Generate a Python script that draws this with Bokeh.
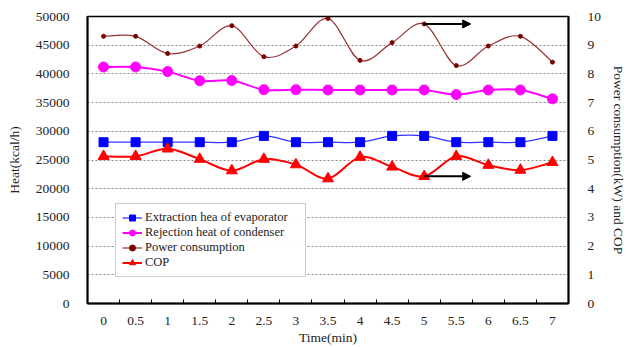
from bokeh.plotting import figure
from bokeh.models import (Range1d, LinearAxis, FixedTicker, Legend, LegendItem,
                          Arrow, NormalHead, ColumnDataSource)
from bokeh.embed import file_html
from bokeh.resources import INLINE

time_labels = ["0", "0.5", "1", "1.5", "2", "2.5", "3", "3.5", "4", "4.5",
               "5", "5.5", "6", "6.5", "7"]
extraction = [28100, 28100, 28100, 28100, 28100, 29200, 28100, 28100, 28100,
              29200, 29200, 28100, 28100, 28100, 29200]
rejection = [41200, 41200, 40400, 38800, 38850, 37250, 37250, 37200, 37200,
             37200, 37200, 36400, 37200, 37200, 35650]
power = [9.31, 9.31, 8.71, 8.97, 9.68, 8.60, 8.97, 9.93, 8.47, 9.09, 9.74,
         8.29, 8.97, 9.31, 8.41]
cop = [5.13, 5.13, 5.39, 5.03, 4.63, 5.03, 4.84, 4.35, 5.10, 4.76, 4.43,
       5.13, 4.82, 4.65, 4.92]

xs = list(range(len(time_labels)))
FONT = "Liberation Serif"


def smooth(xv, yv):
    n = len(xv)
    d = dict(x0=[], y0=[], x1=[], y1=[], cx0=[], cy0=[], cx1=[], cy1=[])
    for i in range(n - 1):
        pm = max(i - 1, 0)
        pp = min(i + 2, n - 1)
        d["x0"].append(xv[i]); d["y0"].append(yv[i])
        d["x1"].append(xv[i + 1]); d["y1"].append(yv[i + 1])
        d["cx0"].append(xv[i] + (xv[i + 1] - xv[pm]) / 6)
        d["cy0"].append(yv[i] + (yv[i + 1] - yv[pm]) / 6)
        d["cx1"].append(xv[i + 1] - (xv[pp] - xv[i]) / 6)
        d["cy1"].append(yv[i + 1] - (yv[pp] - yv[i]) / 6)
    return ColumnDataSource(d)


p = figure(width=629, height=347, output_backend="svg", toolbar_location=None,
           x_range=Range1d(-0.5, len(xs) - 0.5), y_range=Range1d(0, 50000),
           min_border_left=87, min_border_right=59, min_border_top=16,
           min_border_bottom=39)
p.extra_y_ranges = {"right": Range1d(0, 10)}

p.outline_line_color = "black"
p.outline_line_width = 1.5
p.xgrid.visible = False
p.ygrid.grid_line_color = "#888888"
p.ygrid.grid_line_dash = "2 2"
p.ygrid.grid_line_width = 1
p.yaxis.ticker = FixedTicker(ticks=list(range(0, 50001, 5000)))

# x axis
xa = p.xaxis[0]
xa.ticker = FixedTicker(ticks=xs, minor_ticks=[i - 0.5 for i in range(len(xs) + 1)])
xa.major_label_overrides = {i: t for i, t in enumerate(time_labels)}
xa.major_tick_line_color = None
xa.minor_tick_in = 4
xa.minor_tick_out = 0
xa.minor_tick_line_color = "black"
xa.axis_label = "Time(min)"

ya = p.yaxis[0]
ya.axis_label = "Heat(kcal/h)"
ya.major_tick_line_color = None
ya.minor_tick_line_color = None

ra = LinearAxis(y_range_name="right", axis_label="Power consumption(kW) and COP",
                ticker=FixedTicker(ticks=list(range(0, 11))))
ra.major_tick_line_color = None
ra.minor_tick_line_color = None
p.add_layout(ra, "right")

for ax in [xa, ya, ra]:
    ax.axis_line_color = "black"
    ax.axis_line_width = 2
    ax.major_label_text_font = FONT
    ax.major_label_text_font_size = "13.5px"
    ax.major_label_text_color = "#222222"
    ax.axis_label_text_font = FONT
    ax.axis_label_text_font_size = "13.5px"
    ax.axis_label_text_font_style = "normal"
    ax.axis_label_text_color = "#222222"

xa.major_label_standoff = 7
xa.axis_label_standoff = 2
ya.major_label_standoff = 12
ya.axis_label_standoff = 11
ra.major_label_standoff = 13
ra.axis_label_standoff = 7

# series
src_e = smooth(xs, extraction)
src_r = smooth(xs, rejection)
src_p = smooth(xs, power)
src_c = smooth(xs, cop)

le = p.bezier("x0", "y0", "x1", "y1", "cx0", "cy0", "cx1", "cy1", source=src_e,
              line_color="#3333ff", line_width=1.3)
me = p.scatter(xs, extraction, marker="square", size=9, fill_color="#0000ff",
               line_color="#0000ff")
lr = p.bezier("x0", "y0", "x1", "y1", "cx0", "cy0", "cx1", "cy1", source=src_r,
              line_color="#ff00ff", line_width=2)
mr = p.scatter(xs, rejection, marker="circle", size=10, fill_color="#ff00ff",
               line_color="#ff00ff")
lp = p.bezier("x0", "y0", "x1", "y1", "cx0", "cy0", "cx1", "cy1", source=src_p,
              line_color="#993333", line_width=1.2, y_range_name="right")
mp = p.scatter(xs, power, marker="circle", size=4, fill_color="#7a0000",
               line_color="#7a0000", y_range_name="right")
lc = p.bezier("x0", "y0", "x1", "y1", "cx0", "cy0", "cx1", "cy1", source=src_c,
              line_color="#ff0000", line_width=2, y_range_name="right")
mc = p.scatter(xs, cop, marker="triangle", size=11, fill_color="#ff0000",
               line_color="#ff0000", y_range_name="right")

# arrows pointing to right axis
i5 = time_labels.index("5")
for series in (power, cop):
    p.add_layout(Arrow(end=NormalHead(size=8, fill_color="black", line_color="black"),
                       x_start=i5, y_start=series[i5], x_end=i5 + 1.45,
                       y_end=series[i5], line_color="black", line_width=2,
                       y_range_name="right"))

legend = Legend(items=[
    LegendItem(label="Extraction hea of evaporator", renderers=[le, me]),
    LegendItem(label="Rejection heat of condenser", renderers=[lr, mr]),
    LegendItem(label="Power consumption", renderers=[lp, mp]),
    LegendItem(label="COP", renderers=[lc, mc]),
], location=(28, 26))
legend.label_text_font = FONT
legend.label_text_font_size = "12.5px"
legend.label_text_color = "#222222"
legend.border_line_color = "#999999"
legend.border_line_width = 1.5
legend.glyph_width = 20
legend.glyph_height = 15
legend.label_height = 15
legend.label_width = 154
legend.spacing = 0
legend.padding = 6
legend.margin = 0
legend.label_standoff = 3
p.add_layout(legend, "center")

open("out.html", "w").write(file_html(p, INLINE))
